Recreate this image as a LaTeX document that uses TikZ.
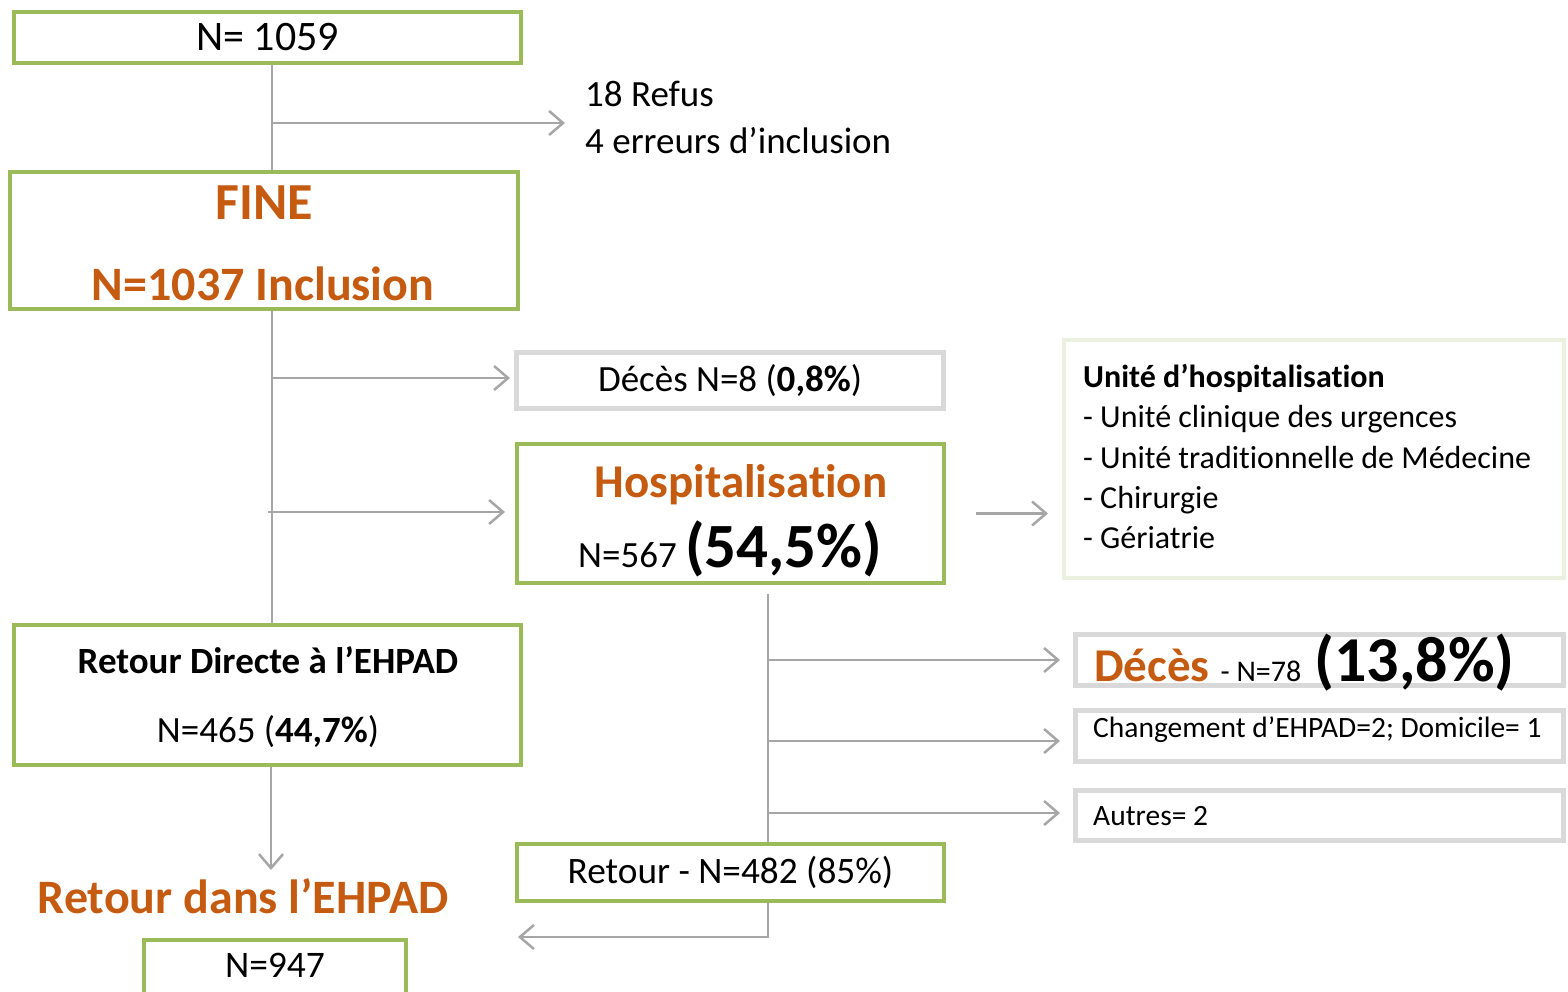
\documentclass[tikz,border=0pt]{standalone}
\usepackage{fontspec}
\setmainfont{Carlito}[Ligatures={NoCommon,NoContextual,NoRequired},RawFeature={-calt}]
\usetikzlibrary{arrows.meta}
\definecolor{grn}{HTML}{9BBB59}
\definecolor{org}{HTML}{C55A11}
\definecolor{lgray}{HTML}{D9D9D9}
\definecolor{agray}{HTML}{A6A6A6}
\definecolor{lgreen}{HTML}{EBF1DE}
\newcommand{\fsz}[1]{\fontsize{#1}{#1}\selectfont}
\newcommand{\tI}{t\kern0pt i}
\begin{document}
\begin{tikzpicture}[x=1pt,y=-1pt,
  gbox/.style={draw=grn, line width=4pt, rectangle, inner sep=0pt, fill=white},
  wbox/.style={draw=lgray, line width=5pt, rectangle, inner sep=0pt, fill=white},
  ubox/.style={draw=lgreen, line width=4pt, rectangle, inner sep=0pt, fill=white},
  txt/.style={inner sep=0pt, anchor=base},
  ltxt/.style={inner sep=0pt, anchor=base west},
  conn/.style={draw=agray, line width=2.5pt},
  arr/.style={conn, -{Straight Barb[length=14pt,width=24pt]}},
]
\useasboundingbox (0,0) rectangle (1568,991);
\clip (0,0) rectangle (1568,991);

% boxes
\node[gbox, minimum width=507pt, minimum height=51pt, font=\fsz{42}] (n1) at (267.5,37.5) {N= 1059};
\node[gbox, minimum width=508pt, minimum height=137pt] (n2) at (264,240.5) {};
\node[wbox, minimum width=427pt, minimum height=56pt, font=\fsz{37}] (d1) at (730,380.5) {Décès N=8 (\textbf{0,8\%})};
\node[gbox, minimum width=427pt, minimum height=139pt] (hosp) at (730.5,513.5) {};
\node[ubox, minimum width=500pt, minimum height=238pt] (unit) at (1314,459) {};
\node[wbox, minimum width=488pt, minimum height=51pt] (d2) at (1319.5,660) {};
\node[wbox, minimum width=488pt, minimum height=51pt] (chg) at (1319.5,736) {};
\node[wbox, minimum width=488pt, minimum height=50pt] (aut) at (1319.5,815.5) {};
\node[gbox, minimum width=427pt, minimum height=57pt, font=\fsz{37.3}] (ret) at (730.5,872.5) {Retour - N=482 (85\%)};
\node[gbox, minimum width=507pt, minimum height=140pt] (rd) at (267.5,695) {};
\node[gbox, minimum width=262pt, minimum height=70pt] (n947) at (275,975) {};

% texts
\node[ltxt, font=\fsz{37}] (refus1) at (585,106) {18 Refus};
\node[ltxt, font=\fsz{37}] (refus2) at (585,153) {4 erreurs d’inclusion};
\node[txt, font=\bfseries\fsz{52}, text=org] (fine) at (264,219) {FINE};
\node[txt, font=\bfseries\fsz{48}, text=org] (incl) at (263,300) {N=1037 Inclusion};
\node[txt, font=\bfseries\fsz{47}, text=org] (hospt) at (741,497) {Hospitalisa\tI on};
\node[ltxt] (hospn) at (578,567) {\fsz{37}N=567 \fsz{63}\bfseries(54,5\%)};
\node[ltxt, font=\bfseries\fsz{32}] (u0) at (1083,387) {Unité d’hospitalisa\tI on};
\node[ltxt, font=\fsz{32}] (u1) at (1083,427) {- Unité clinique des urgences};
\node[ltxt, font=\fsz{32}] (u2) at (1083,468) {- Unité tradi\tI onnelle de Médecine};
\node[ltxt, font=\fsz{32}] (u3) at (1083,508) {- Chirurgie};
\node[ltxt, font=\fsz{32}] (u4) at (1083,548) {- Gériatrie};
\node[ltxt] (d2t) at (1094,681) {{\fsz{47}\bfseries\color{org}Décès}\hspace{11pt}{\fsz{30}- N=78}\hspace{13pt}{\fsz{64}\bfseries(13,8\%)}};
\node[ltxt, font=\fsz{29.5}] (chgt) at (1093,737) {Changement d’EHPAD=2; Domicile= 1};
\node[ltxt, font=\fsz{29.5}] (autt) at (1093,825) {Autres= 2};
\node[txt, font=\bfseries\fsz{37}] (rdt1) at (268,673) {Retour Directe à l’EHPAD};
\node[txt, font=\fsz{37}] (rdt2) at (268,742) {N=465 (\textbf{44,7\%})};
\node[txt, font=\bfseries\fsz{48}, text=org] (title) at (243,913) {Retour dans l’EHPAD};
\node[txt, font=\fsz{37.5}] (n947t) at (275,977) {N=947};

% coordinates
\coordinate (tr) at (272,0);
\coordinate (tr2) at (768,0);
\coordinate (b1) at (272,123);
\coordinate (b2) at (272,378);
\coordinate (b3) at (268,512);
\coordinate (c1) at (768,660);
\coordinate (c2) at (768,741);
\coordinate (c3) at (768,813);
\coordinate (rk) at (768,937);
\coordinate (rend) at (518,937);
\coordinate (rdend) at (271,870);

% connectors
\draw[conn] (n1.south -| tr) -- (n2.north -| tr);
\draw[arr] (b1) -- ([xshift=-20pt]refus1.west |- b1);
\draw[conn] (n2.south -| tr) -- (rd.north -| tr);
\draw[arr] (b2) -- ([xshift=-4pt]d1.west |- b2);
\draw[arr] (b3) -- ([xshift=-10pt]hosp.west |- b3);
\draw[arr] ([xshift=30pt]hosp.east) -- ([xshift=-14pt]unit.west |- hosp.east);
\draw[conn] ([yshift=-9pt]hosp.south -| tr2) -- (ret.north -| tr2);
\draw[arr] (c1) -- ([xshift=-13pt]d2.west |- c1);
\draw[arr] (c2) -- ([xshift=-13pt]chg.west |- c2);
\draw[arr] (c3) -- ([xshift=-13pt]aut.west |- c3);
\draw[arr] (ret.south -| tr2) -- (rk) -- (rend);
\draw[arr] (rd.south -| rdend) -- (rdend);
\end{tikzpicture}
\end{document}
